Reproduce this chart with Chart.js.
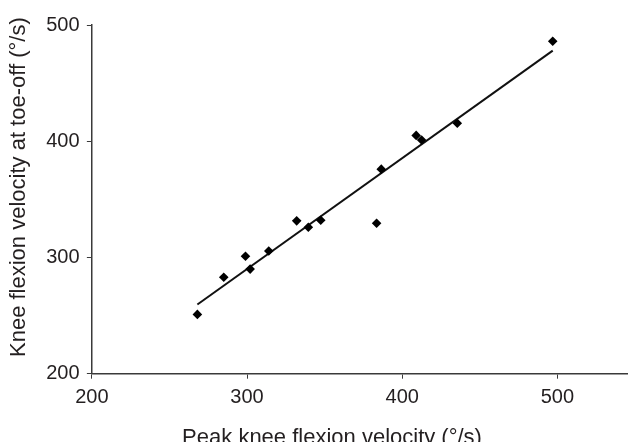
<!doctype html>
<html lang="en">
 <head>
  <meta charset="utf-8">
  <style>
body { margin: 0; background: #fff; }
.chart-box { width: 632px; height: 442px; }
  </style>
  <title>Knee flexion velocity</title>
 </head>
 <body>
  <div class="chart-box"><canvas id="kneechart"></canvas></div>
  <script src="https://cdn.jsdelivr.net/npm/chart.js@4.4.1/dist/chart.umd.min.js"></script>
  <script>
// peak knee flexion velocity (deg/s)
var peakVelocity = [268, 285, 299, 302, 314, 332, 339.5, 347.5, 383.5, 386.5, 409, 412.5, 435.5, 497];
// knee flexion velocity at toe-off (deg/s)
var toeOffVelocity = [251, 283, 301, 290, 305.5, 331.5, 326, 332, 329.5, 376, 405, 401, 415.5, 486];
// regression line end points
var fitX = [268, 497];
var fitY = [259.5, 478];

var xTicks = [200, 300, 400, 500];
var yTicks = [200, 300, 400, 500];

var points = peakVelocity.map(function (v, i) { return { x: v, y: toeOffVelocity[i] }; });
var fitLine = fitX.map(function (v, i) { return { x: v, y: fitY[i] }; });

var axisColor = '#3a3a3a';
var textColor = '#231f20';

// only keep the round ticks (chart.js adds the max value otherwise)
function keepTicks(list) {
  return function (scale) {
    scale.ticks = list.map(function (v) { return { value: v }; });
  };
}

const chartConfig = {
  type: 'scatter',
  data: {
    datasets: [
      {
        label: 'Data',
        data: points,
        pointStyle: 'rectRot',
        pointRadius: 4.8,
        backgroundColor: '#000',
        borderColor: '#000',
        borderWidth: 0
      },
      {
        label: 'Fit',
        type: 'line',
        data: fitLine,
        borderColor: '#111',
        borderWidth: 2,
        pointRadius: 0,
        fill: false
      }
    ]
  },
  options: {
    animation: false,
    responsive: true,
    maintainAspectRatio: false,
    layout: { padding: { top: 25, right: 0, left: 5.8, bottom: -9.2 } },
    scales: {
      x: {
        type: 'linear',
        min: 200,
        max: 545,
        afterBuildTicks: keepTicks(xTicks),
        grid: { drawOnChartArea: false, drawTicks: true, tickLength: 5, color: axisColor },
        border: { color: axisColor, width: 1.5 },
        ticks: { color: textColor, font: { family: 'Liberation Sans', size: 20 }, padding: 7, maxRotation: 0 },
        // trailing spaces push the centred title left, like the original
        title: { display: true, text: 'Peak knee flexion velocity (°/s)' + '         ', color: textColor, font: { family: 'Liberation Sans', size: 22 }, padding: { top: 8.1, bottom: 0 } }
      },
      y: {
        type: 'linear',
        min: 200,
        max: 500,
        afterBuildTicks: keepTicks(yTicks),
        grid: { drawOnChartArea: false, drawTicks: true, tickLength: 5, color: axisColor },
        border: { color: axisColor, width: 1.5 },
        ticks: { color: textColor, font: { family: 'Liberation Sans', size: 20 }, padding: 7.3 },
        title: { display: true, text: '    ' + 'Knee flexion velocity at toe-off (°/s)', color: textColor, font: { family: 'Liberation Sans', size: 22 }, padding: { top: 0, bottom: 6.7 } }
      }
    },
    plugins: {
      legend: { display: false },
      tooltip: { enabled: false }
    }
  }
};
const kneeChart = new Chart(document.getElementById('kneechart'), chartConfig);
  </script>
 </body>
</html>
